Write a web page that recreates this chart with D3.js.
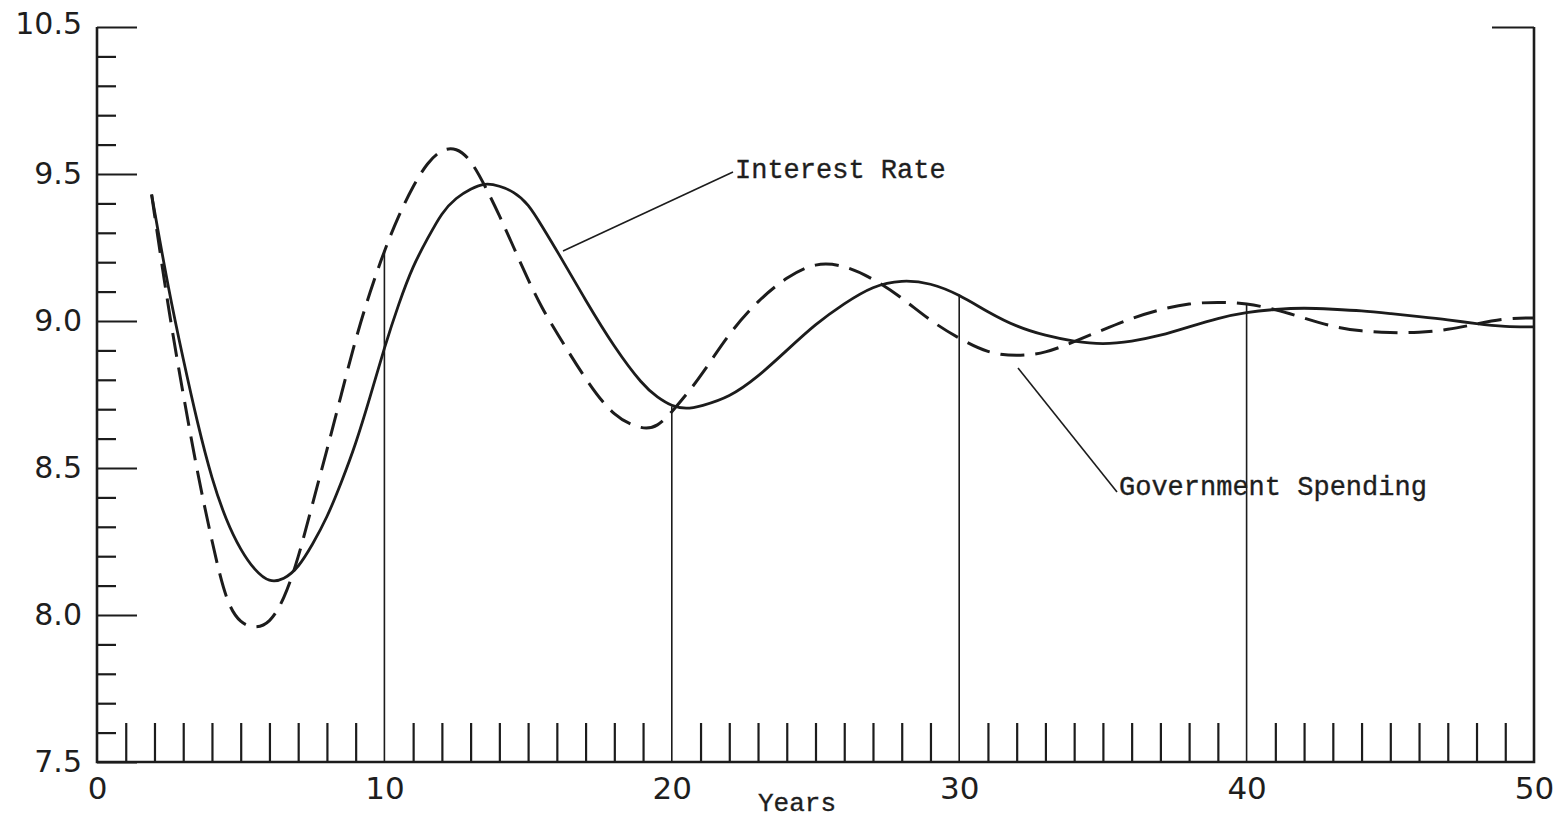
<!DOCTYPE html>
<html>
<head>
<meta charset="utf-8">
<script src="https://cdn.jsdelivr.net/npm/d3@7"></script>
<style>
  html, body { margin: 0; padding: 0; background: #ffffff; }
  svg { display: block; }
  .ylab, .xlab { font-family: "DejaVu Sans", sans-serif; fill: #1e1e1e; }
  .mono { font-family: "Liberation Mono", "DejaVu Sans Mono", monospace; fill: #1e1e1e;
          stroke: #1e1e1e; stroke-width: 0.35px; }
</style>
</head>
<body>
<svg id="chart" width="1563" height="821"></svg>
<script>
// Simulated path of the interest rate and government spending, by year
const years = [1.9, 2.5, 3, 3.5, 4, 4.5, 5, 5.5, 6, 6.5, 7, 7.5, 8, 8.5, 9, 9.5,
  10, 10.5, 11, 11.5, 12, 12.5, 13, 13.5, 14, 14.5, 15, 15.5, 16, 17, 18, 19, 19.5,
  20, 20.5, 21, 22, 23, 24, 25, 26, 27, 28, 29, 30, 31, 32, 33, 34, 35, 36, 37, 38,
  39, 40, 41, 42, 43, 44, 45, 46, 47, 48, 49, 50];

const interestRate = [9.43, 9.10, 8.87, 8.65, 8.46, 8.32, 8.22, 8.15, 8.11, 8.12, 8.16, 8.24, 8.33, 8.45, 8.58, 8.74,
  8.91, 9.06, 9.19, 9.28, 9.37, 9.42, 9.45, 9.47, 9.46, 9.44, 9.40, 9.32, 9.24, 9.07, 8.91, 8.78, 8.74,
  8.71, 8.70, 8.71, 8.74, 8.81, 8.90, 8.99, 9.06, 9.12, 9.14, 9.13, 9.09, 9.03, 8.98, 8.95, 8.93, 8.92, 8.93, 8.95, 8.98,
  9.01, 9.03, 9.04, 9.045, 9.04, 9.035, 9.025, 9.015, 9.005, 8.99, 8.98, 8.98];

const govSpending = [9.43, 9.03, 8.75, 8.48, 8.25, 8.04, 7.97, 7.955, 7.97, 8.05, 8.19, 8.38, 8.56, 8.75, 8.94, 9.10,
  9.24, 9.36, 9.46, 9.54, 9.585, 9.59, 9.55, 9.46, 9.36, 9.25, 9.14, 9.04, 8.96, 8.80, 8.67, 8.63, 8.64,
  8.69, 8.75, 8.81, 8.96, 9.07, 9.15, 9.20, 9.19, 9.145, 9.08, 9.00, 8.94, 8.89, 8.88, 8.89, 8.93, 8.97, 9.01, 9.04, 9.06,
  9.065, 9.06, 9.04, 9.01, 8.98, 8.965, 8.96, 8.96, 8.97, 8.99, 9.01, 9.01];

// Axis ticks and their printed labels
const yMajorTicks = [7.5, 8.0, 8.5, 9.0, 9.5, 10.0];
const yMajorLabels = ["7.5", "8.0", "8.5", "9.0", "9.5", "10.5"];
const yMinorTicks = d3.range(76, 100).filter(v => v % 5 !== 0).map(v => v / 10);
const xLabelTicks = [0, 10, 20, 30, 40, 50];
const xMinorTicks = d3.range(1, 50).filter(v => v % 10 !== 0);
const dropYears = [10, 20, 30, 40];

const svg = d3.select("#chart");
const ink = "#1c1c1c";

const x = d3.scaleLinear().domain([0, 50]).range([97, 1534]);
const y = d3.scaleLinear().domain([7.5, 10]).range([762, 27]);

// Minor ticks on the left axis
svg.append("g").attr("transform", `translate(${x(0)},0)`)
  .call(d3.axisLeft(y).tickValues(yMinorTicks).tickSize(-19).tickFormat(""));
// Labelled ticks on the left axis
const gYMajor = svg.append("g").attr("transform", `translate(${x(0)},0)`)
  .call(d3.axisLeft(y).tickValues(yMajorTicks).tickSize(-40).tickPadding(15)
    .tickFormat(d => yMajorLabels[yMajorTicks.indexOf(d)]));
gYMajor.selectAll("text").attr("class", "ylab").style("font-size", "30px").attr("fill", ink);
gYMajor.selectAll("text").filter(d => d === 10).attr("dy", "0.22em");

// Right-hand corner tick at the top
svg.append("g").attr("transform", `translate(${x(50)},0)`)
  .call(d3.axisRight(y).tickValues([10]).tickSize(-42).tickFormat(""));

// Yearly ticks along the bottom axis
svg.append("g").attr("transform", `translate(0,${y(7.5)})`)
  .call(d3.axisBottom(x).tickValues(xMinorTicks).tickSize(-39).tickFormat(""));

// Decade labels
const gX = svg.append("g").attr("transform", `translate(0,${y(7.5)})`)
  .call(d3.axisBottom(x).tickValues(xLabelTicks).tickSize(0).tickPadding(15).tickFormat(d3.format("d")));
gX.selectAll("text").attr("class", "xlab").style("font-size", "31px").attr("fill", ink);

svg.selectAll(".domain").remove();
svg.selectAll(".tick line").attr("stroke", ink).attr("stroke-width", 2.2);
svg.selectAll("g").attr("font-family", null).attr("font-size", null);

// Frame: left axis, bottom axis, right axis
const frame = d3.path();
frame.moveTo(x(0), y(10));
frame.lineTo(x(0), y(7.5));
frame.lineTo(x(50), y(7.5));
frame.lineTo(x(50), y(10));
svg.append("path").attr("d", frame.toString())
  .attr("fill", "none").attr("stroke", ink).attr("stroke-width", 2.6);

// Drop lines from the curves down to the axis at each decade
const valueAt = (arr, t) => arr[years.indexOf(t)];
svg.append("g").selectAll("line").data(dropYears).join("line")
  .attr("x1", d => x(d)).attr("x2", d => x(d))
  .attr("y1", y(7.5))
  .attr("y2", d => y(Math.max(valueAt(interestRate, d), valueAt(govSpending, d))))
  .attr("stroke", ink).attr("stroke-width", 1.6);

const line = d3.line()
  .x((d, i) => x(years[i]))
  .y(d => y(d))
  .curve(d3.curveBasis);

svg.append("path").datum(govSpending).attr("d", line)
  .attr("fill", "none").attr("stroke", ink).attr("stroke-width", 3)
  .attr("stroke-dasharray", "24 11");

svg.append("path").datum(interestRate).attr("d", line)
  .attr("fill", "none").attr("stroke", ink).attr("stroke-width", 2.8);

// Series labels with leader lines
svg.append("line").attr("x1", 563).attr("y1", 251).attr("x2", 733).attr("y2", 172)
  .attr("stroke", ink).attr("stroke-width", 1.6);
svg.append("text").attr("class", "mono").attr("x", 735).attr("y", 178)
  .style("font-size", "27px").text("Interest Rate");

svg.append("line").attr("x1", 1018).attr("y1", 368).attr("x2", 1117).attr("y2", 492)
  .attr("stroke", ink).attr("stroke-width", 1.6);
svg.append("text").attr("class", "mono").attr("x", 1119).attr("y", 495)
  .style("font-size", "27px").text("Government Spending");

svg.append("text").attr("class", "mono").attr("x", 797).attr("y", 811)
  .attr("text-anchor", "middle").style("font-size", "26px").text("Years");
</script>
</body>
</html>
